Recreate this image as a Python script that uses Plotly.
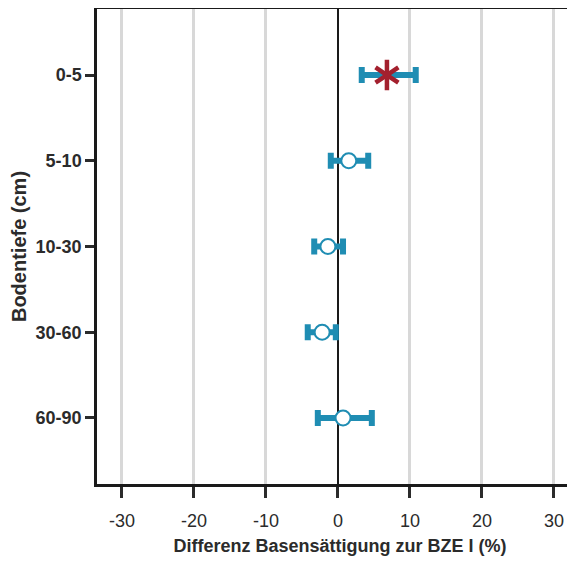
import plotly.graph_objects as go

depths = ["0-5", "5-10", "10-30", "30-60", "60-90"]
means = [6.8, 1.5, -1.4, -2.2, 0.7]
lower = [3.3, -1.0, -3.3, -4.2, -2.8]
upper = [10.8, 4.2, 0.7, -0.3, 4.7]
significant = [True, False, False, False, False]
x_ticks = [-30, -20, -10, 0, 10, 20, 30]

teal = "#1f8db3"
red = "#a3202e"

err_plus = [u - m for u, m in zip(upper, means)]
err_minus = [m - l for m, l in zip(means, lower)]

fig = go.Figure()

fig.add_trace(go.Scatter(
    x=means, y=depths, mode="markers",
    error_x=dict(type="data", symmetric=False, array=err_plus, arrayminus=err_minus,
                 color=teal, thickness=6, width=8),
    marker=dict(
        symbol="circle",
        size=[0 if s else 15 for s in significant],
        color="white", opacity=1,
        line=dict(color=teal, width=2),
    ),
    showlegend=False, hoverinfo="skip",
))

sig_x = [m for m, s in zip(means, significant) if s]
sig_y = [d for d, s in zip(depths, significant) if s]
for sym in ["y-up-open", "y-down-open"]:
    fig.add_trace(go.Scatter(
        x=sig_x, y=sig_y, mode="markers",
        marker=dict(symbol=sym, size=19, color=red, opacity=1,
                    line=dict(color=red, width=4.5)),
        showlegend=False, hoverinfo="skip",
    ))

fig.update_layout(
    width=575, height=562,
    margin=dict(l=89, r=0, t=1, b=86),
    paper_bgcolor="white", plot_bgcolor="white",
    font=dict(family="Liberation Sans, Arial, sans-serif", color="#2b2b2b"),
    xaxis=dict(
        automargin=False,
        range=[-33.47, 34.03], tickvals=x_ticks, ticktext=[str(v) for v in x_ticks],
        showgrid=True, gridcolor="#d8d8d8", gridwidth=2.5,
        zeroline=True, zerolinecolor="#1a1a1a", zerolinewidth=2,
        showline=True, linecolor="#1a1a1a", linewidth=2.5, mirror=True,
        ticks="outside", ticklen=11, tickwidth=2.5, tickcolor="#2b2b2b",
        tickfont=dict(size=18), ticklabelstandoff=8,
        title=dict(text="<b>Differenz Basensättigung zur BZE I (%)</b>",
                   font=dict(size=18), standoff=10),
    ),
    yaxis=dict(
        automargin=False,
        categoryorder="array", categoryarray=depths,
        range=[4.77, -0.77],
        showgrid=False, zeroline=False,
        showline=True, linecolor="#1a1a1a", linewidth=2.5,
        ticks="outside", ticklen=9, tickwidth=2.5, tickcolor="#2b2b2b",
        tickfont=dict(size=18),
        title=dict(text="<b>Bodentiefe (cm)</b>", font=dict(size=20), standoff=4),
    ),
)
fig.update_xaxes(tickprefix="<b>", ticksuffix="</b>")
fig.update_yaxes(tickprefix="<b>", ticksuffix="</b>")

fig.write_html("out.html")
